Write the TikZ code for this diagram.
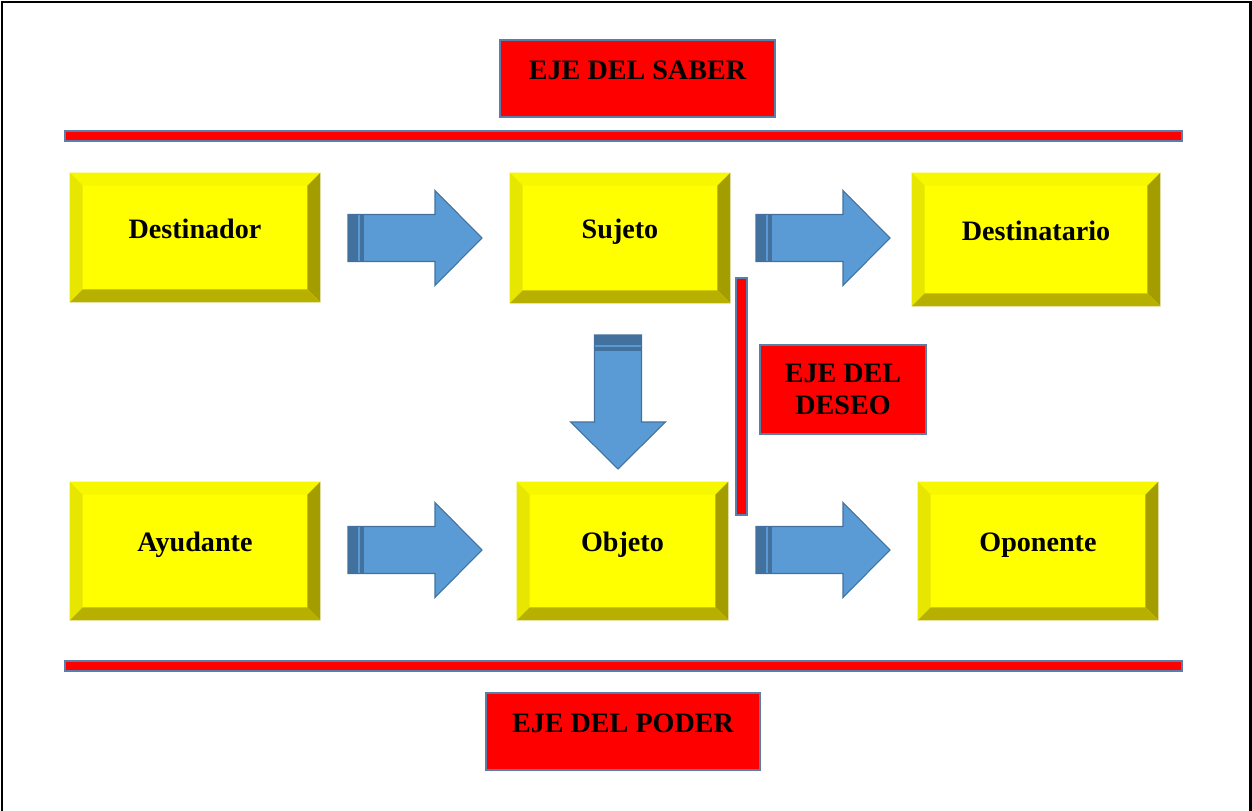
\documentclass[tikz,border=0pt]{standalone}
\usepackage{fontspec}
\setmainfont{Liberation Serif}

\definecolor{ejered}{HTML}{FF0000}
\definecolor{ejeline}{HTML}{5B7DAA}
\definecolor{boxface}{HTML}{FFFF00}
\definecolor{bevtop}{HTML}{F7F700}
\definecolor{bevleft}{HTML}{E6E600}
\definecolor{bevright}{HTML}{A39D00}
\definecolor{bevbottom}{HTML}{B8B000}
\definecolor{arrfill}{HTML}{5B9BD5}
\definecolor{arrline}{HTML}{41719C}

%Bevel of the yellow boxes, 13px wide on every side
\newcommand{\bevel}[1]{%
\fill[bevtop] (#1.north west) -- (#1.north east) -- ([shift={(-13,13)}]#1.north east) -- ([shift={(13,13)}]#1.north west) -- cycle;
\fill[bevleft] (#1.north west) -- ([shift={(13,13)}]#1.north west) -- ([shift={(13,-13)}]#1.south west) -- (#1.south west) -- cycle;
\fill[bevright] (#1.north east) -- (#1.south east) -- ([shift={(-13,-13)}]#1.south east) -- ([shift={(-13,13)}]#1.north east) -- cycle;
\fill[bevbottom] (#1.south west) -- ([shift={(13,-13)}]#1.south west) -- ([shift={(-13,-13)}]#1.south east) -- (#1.south east) -- cycle;
}

\tikzset{
boxsize/.style 2 args={minimum width=#1*0.02cm, minimum height=#2*0.02cm},
raised/.style={text height=10.6pt, text depth=9.6pt},
actant/.style={fill=boxface, inner sep=0pt, raised,
  font=\bfseries\fontsize{16pt}{18.5pt}\selectfont},
ejebox/.style={draw=ejeline, line width=1.2pt, fill=ejered, inner sep=0pt, align=center,
  font=\bfseries\fontsize{16pt}{18.5pt}\selectfont},
ejebar/.style={draw=ejeline, line width=1.2pt, fill=ejered},
barrow/.pic={
  \filldraw[fill=arrfill, draw=arrline, line width=0.6pt] (0,-23.5) -- (87,-23.5) -- (87,-47.5) -- (134,0) -- (87,47.5) -- (87,23.5) -- (0,23.5) -- cycle;
  \fill[arrline] (0,-23.5) rectangle (10,23.5);
  \fill[arrline] (12,-23.5) rectangle (16,23.5);
}
}

\begin{document}
\begin{tikzpicture}[x=0.02cm, y=-0.02cm]
\useasboundingbox (0,0) rectangle (1252,811);

%Axes
\node[ejebox, boxsize={275}{77}, raised] (saber) at (637.5,78.5) {EJE DEL SABER};
\draw[ejebar] (65,131) rectangle (1182,141);
\draw[ejebar] (736,278) rectangle (747,515);
\node[ejebox, boxsize={166}{89}] (deseo) at (843,389.5) {EJE DEL\\DESEO};
\draw[ejebar] (65,661) rectangle (1182,671);
\node[ejebox, boxsize={274}{77}, raised] (poder) at (623,731.5) {EJE DEL PODER};

%Actants
\node[actant, boxsize={250}{129}] (destinador) at (195,237.5) {Destinador};
\node[actant, boxsize={220}{130}] (sujeto) at (620,238) {Sujeto};
\node[actant, boxsize={248}{133}] (destinatario) at (1036,239.5) {Destinatario};
\node[actant, boxsize={250}{138}] (ayudante) at (195,551) {Ayudante};
\node[actant, boxsize={211}{138}] (objeto) at (622.5,551) {Objeto};
\node[actant, boxsize={240}{138}] (oponente) at (1038,551) {Oponente};
\bevel{destinador}
\bevel{sujeto}
\bevel{destinatario}
\bevel{ayudante}
\bevel{objeto}
\bevel{oponente}

%Block arrows
\pic at (348,238) {barrow};
\pic at (756,238) {barrow};
\pic[rotate=-90] at (618,335) {barrow};
\pic at (348,550) {barrow};
\pic at (756,550) {barrow};

%Frame
\draw[line width=1.7pt] (2,811) -- (2,2) -- (1250.5,2) -- (1250.5,811);
\end{tikzpicture}
\end{document}
